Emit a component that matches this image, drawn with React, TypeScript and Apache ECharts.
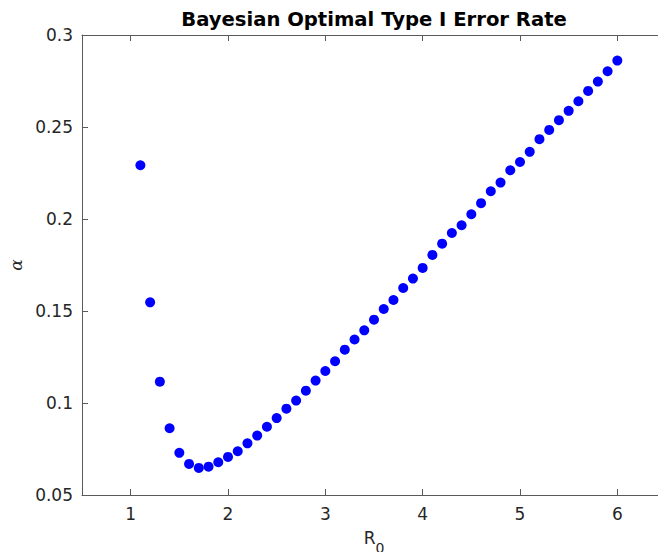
import React, { useEffect, useRef } from 'react';
import * as echarts from 'echarts';

const r0Values = [
  1.1, 1.2, 1.3, 1.4, 1.5, 1.6, 1.7, 1.8, 1.9, 2.0,
  2.1, 2.2, 2.3, 2.4, 2.5, 2.6, 2.7, 2.8, 2.9, 3.0,
  3.1, 3.2, 3.3, 3.4, 3.5, 3.6, 3.7, 3.8, 3.9, 4.0,
  4.1, 4.2, 4.3, 4.4, 4.5, 4.6, 4.7, 4.8, 4.9, 5.0,
  5.1, 5.2, 5.3, 5.4, 5.5, 5.6, 5.7, 5.8, 5.9, 6.0,
];

const alphaValues = [
  0.2292, 0.1547, 0.1116, 0.0863, 0.0729, 0.0669, 0.0647, 0.0654, 0.0678, 0.0707,
  0.0738, 0.0781, 0.0823, 0.0871, 0.0918, 0.0969, 0.1013, 0.1067, 0.1122, 0.1174,
  0.1227, 0.1290, 0.1345, 0.1395, 0.1453, 0.1511, 0.1560, 0.1625, 0.1676, 0.1734,
  0.1805, 0.1866, 0.1924, 0.1966, 0.2026, 0.2086, 0.2151, 0.2198, 0.2265, 0.2310,
  0.2365, 0.2434, 0.2484, 0.2537, 0.2588, 0.2640, 0.2696, 0.2747, 0.2803, 0.2861,
];

const xTickValues = [1, 2, 3, 4, 5, 6];
const yTickValues = [0.05, 0.1, 0.15, 0.2, 0.25, 0.3];

const titleText = 'Bayesian Optimal Type I Error Rate';

const FONT = 'DejaVu Sans';
const INK = '#262626';
const AXIS = '#5a5a5a';

export default function App() {
  const ref = useRef<HTMLDivElement>(null);

  useEffect(() => {
    if (!ref.current) return;
    const chart = echarts.init(ref.current, null, { renderer: 'svg' });
    const points = r0Values.map((x, i) => [x, alphaValues[i]]);

    const baseX = {
      type: 'value',
      min: 0.5,
      max: 6.5,
      splitLine: { show: false },
      axisLine: { show: true, onZero: false, lineStyle: { color: AXIS, width: 1 } },
      axisTick: {
        show: true,
        inside: true,
        length: 6,
        customValues: xTickValues,
        lineStyle: { color: AXIS, width: 1 },
      },
    };
    const baseY = {
      type: 'value',
      min: 0.05,
      max: 0.3,
      splitLine: { show: false },
      axisLine: { show: true, onZero: false, lineStyle: { color: AXIS, width: 1 } },
      axisTick: {
        show: true,
        inside: true,
        length: 6,
        customValues: yTickValues,
        lineStyle: { color: AXIS, width: 1 },
      },
    };

    chart.setOption({
      animation: false,
      backgroundColor: '#ffffff',
      graphic: [
        {
          type: 'text',
          x: 374,
          y: 19,
          style: {
            text: titleText,
            x: 0,
            y: 0,
            align: 'center',
            verticalAlign: 'middle',
            fontFamily: FONT,
            fontWeight: 'bold',
            fontSize: 19.6,
            fill: '#000000',
          },
        },
      ],
      grid: {
        left: 82,
        top: 35,
        width: 584,
        height: 460,
        containLabel: false,
        outerBoundsMode: 'none',
      },
      xAxis: [
        {
          ...baseX,
          position: 'bottom',
          name: '{r|R}{s|0}',
          nameLocation: 'middle',
          nameGap: 26,
          nameTextStyle: {
            color: INK,
            fontFamily: FONT,
            rich: {
              r: { fontSize: 17, fontFamily: FONT, color: INK },
              s: { fontSize: 14, fontFamily: FONT, color: INK, padding: [20, 0, 0, 0] },
            },
          },
          axisLabel: {
            show: true,
            customValues: xTickValues,
            margin: 10,
            fontSize: 17,
            fontFamily: FONT,
            color: INK,
            formatter: (v: number) => String(v),
          },
        },
        {
          ...baseX,
          position: 'top',
          axisLabel: { show: false },
        },
      ],
      yAxis: [
        {
          ...baseY,
          position: 'left',
          name: 'α',
          nameLocation: 'middle',
          nameGap: 52,
          nameRotate: 90,
          nameTextStyle: {
            color: INK,
            fontFamily: 'DejaVu Serif',
            fontStyle: 'italic',
            fontSize: 17,
          },
          axisLabel: {
            show: true,
            customValues: yTickValues,
            margin: 9,
            fontSize: 17,
            fontFamily: FONT,
            color: INK,
            formatter: (v: number) => String(parseFloat(v.toFixed(2))),
          },
        },
        {
          ...baseY,
          position: 'right',
          axisLabel: { show: false },
        },
      ],
      series: [
        {
          type: 'scatter',
          xAxisIndex: 0,
          yAxisIndex: 0,
          data: points,
          symbol: 'circle',
          symbolSize: 10,
          itemStyle: { color: '#0000ff', opacity: 1 },
        },
      ],
    });

    return () => chart.dispose();
  }, []);

  return (
    <div
      ref={ref}
      style={{ position: 'fixed', left: 0, top: 0, width: 658, height: 552, background: '#fff' }}
    />
  );
}
